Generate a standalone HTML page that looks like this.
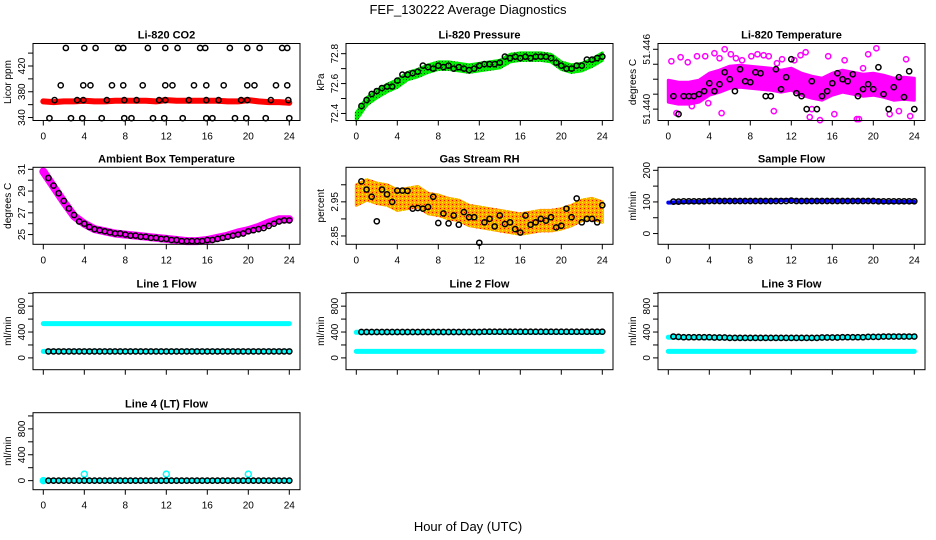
<!DOCTYPE html>
<html><head><meta charset="utf-8">
<style>
html,body{margin:0;padding:0;background:#fff;}
svg{display:block;font-family:"Liberation Sans",sans-serif;}
</style></head>
<body>
<svg id="chart" width="936" height="540" viewBox="0 0 936 540" xmlns="http://www.w3.org/2000/svg">
<defs>
<pattern id="rhpat" width="4" height="4" patternUnits="userSpaceOnUse">
<rect width="4" height="4" fill="#ffa500"/>
<rect x="0" y="0" width="1" height="1" fill="#ff0000"/>
<rect x="2" y="2" width="1" height="1" fill="#ffff00"/>
<rect x="2" y="0" width="1" height="1" fill="#ffd000"/>
</pattern>
<pattern id="grpat" width="3" height="3" patternUnits="userSpaceOnUse">
<rect width="3" height="3" fill="#00ee00"/>
<rect x="1" y="1" width="1" height="1" fill="#006600"/>
</pattern>
</defs>
<text x="468" y="14" font-size="13" text-anchor="middle">FEF_130222  Average Diagnostics</text>
<text x="468" y="531" font-size="13" text-anchor="middle">Hour of Day (UTC)</text>
</svg>
<script>
const halfHours=[0.5,1,1.5,2,2.5,3,3.5,4,4.5,5,5.5,6,6.5,7,7.5,8,8.5,9,9.5,10,10.5,11,11.5,12,12.5,13,13.5,14,14.5,15,15.5,16,16.5,17,17.5,18,18.5,19,19.5,20,20.5,21,21.5,22,22.5,23,23.5,24];
const hours=[0,1,2,3,4,5,6,7,8,9,10,11,12,13,14,15,16,17,18,19,20,21,22,23,24];
const xTicks=[0,4,8,12,16,20,24];
// CO2
const co2Band=[365,364,365,365,366,365,365,366,366,366,366,365,367,366,366,366,366,366,365,365,367,365,364,364,363];
const co2CircH=[2.2,4.0,5.1,7.3,7.8,10.2,11.9,13.1,15.3,15.8,18.2,19.9,21.1,23.3,23.8,1.7,3.9,4.6,6.7,7.8,9.7,11.9,12.6,14.7,15.9,17.6,19.9,20.6,22.7,23.8,1.1,3.3,3.9,6.2,7.9,9.1,11.3,11.9,14.2,15.9,17.1,19.3,19.9,22.2,23.9,0.6,2.7,3.8,5.7,7.9,8.6,10.7,11.8,13.6,15.9,16.5,18.7,19.8,21.7,24.0];
const co2CircV=[448,448,448,448,448,448,448,448,448,448,448,448,448,448,448,390,390,390,390,390,390,390,390,390,390,390,390,390,390,390,367,367,367,367,367,367,367,367,367,367,367,367,367,367,367,339,339,339,339,339,339,339,339,339,339,339,339,339,339,339];
// Pressure
const presBand=[72.38,72.48,72.53,72.57,72.60,72.65,72.67,72.70,72.72,72.72,72.71,72.70,72.71,72.72,72.73,72.77,72.78,72.78,72.78,72.77,72.72,72.70,72.71,72.74,72.78];
const presCirc=[72.45,72.49,72.53,72.55,72.57,72.58,72.58,72.62,72.66,72.66,72.67,72.68,72.72,72.71,72.70,72.72,72.71,72.72,72.70,72.71,72.70,72.69,72.70,72.72,72.73,72.73,72.73,72.74,72.78,72.77,72.78,72.77,72.78,72.77,72.78,72.78,72.78,72.77,72.74,72.72,72.70,72.70,72.72,72.72,72.76,72.76,72.77,72.78];
// Li-820 temperature
const ltBand=[51.4418,51.4416,51.4416,51.4418,51.4425,51.4428,51.4432,51.4433,51.4432,51.4431,51.4430,51.4428,51.4430,51.4425,51.4422,51.4420,51.4425,51.4428,51.4426,51.4424,51.4425,51.4423,51.4420,51.4421,51.4420];
const ltCirc=[51.4413,51.4395,51.4413,51.4413,51.4413,51.4415,51.4418,51.4426,51.4418,51.4425,51.4437,51.4430,51.4418,51.4440,51.4428,51.4427,51.4437,51.4436,51.4413,51.4413,51.4440,51.4420,51.4432,51.4450,51.4416,51.4413,51.4400,51.4428,51.4400,51.4413,51.4418,51.4426,51.4436,51.4430,51.4428,51.4435,51.4413,51.4420,51.4425,51.4420,51.4442,51.4415,51.4400,51.4422,51.4432,51.4412,51.4438,51.4400];
const ltOutH=[0.3,1.2,1.9,2.8,3.6,4.5,5.0,5.5,6.1,6.6,7.2,8.1,8.7,9.3,9.8,10.6,11.1,12.3,12.9,13.4,14.0,14.8,15.6,16.2,17.2,18.4,19.0,19.5,20.3,21.6,22.5,23.2,23.6,0.8,2.3,3.9,5.2,10.3,13.8,18.6];
const ltOutV=[51.4448,51.4452,51.4447,51.4453,51.4453,51.4456,51.4451,51.4460,51.4455,51.4451,51.4449,51.4453,51.4455,51.4454,51.4453,51.4446,51.4450,51.4449,51.4454,51.4457,51.4400,51.4389,51.4453,51.4395,51.4449,51.4390,51.4441,51.4455,51.4461,51.4395,51.4398,51.4450,51.4393,51.4396,51.4403,51.4406,51.4396,51.4398,51.4392,51.4390];
// Ambient
const ambBand=[30.8,29.4,28.0,26.7,26.0,25.5,25.3,25.1,25.0,24.9,24.8,24.7,24.6,24.5,24.4,24.4,24.5,24.7,24.9,25.2,25.4,25.7,26.1,26.4,26.4];
const ambCirc=[30.2,29.5,28.8,28.1,27.4,26.8,26.2,26.0,25.7,25.5,25.4,25.3,25.2,25.1,25.1,25.0,24.9,24.9,24.8,24.8,24.7,24.7,24.6,24.6,24.5,24.5,24.4,24.4,24.4,24.4,24.4,24.5,24.5,24.6,24.7,24.8,24.9,25.0,25.1,25.3,25.4,25.5,25.6,25.8,26.0,26.2,26.3,26.3];
// Gas stream RH
const rhBand=[2.97,2.985,2.975,2.97,2.955,2.96,2.965,2.945,2.94,2.93,2.925,2.91,2.905,2.9,2.895,2.89,2.885,2.89,2.895,2.895,2.9,2.91,2.925,2.93,2.92];
const rhCirc=[3.01,2.986,2.965,2.893,2.986,2.972,2.95,2.983,2.983,2.982,2.93,2.932,2.93,2.935,2.965,2.888,2.916,2.887,2.91,2.883,2.92,2.905,2.905,2.83,2.89,2.9,2.878,2.91,2.885,2.89,2.87,2.86,2.91,2.883,2.89,2.9,2.895,2.905,2.875,2.88,2.93,2.905,2.96,2.89,2.9,2.9,2.89,2.94];
// Sample flow
const sfBand=[98,99,100,100,104,104,104,104,104,104,104,105,105,104,104,104,104,104,104,104,104,100,100,100,100];
const sfCirc=[101,101,102,102,102,102,102,103,103,103,103,103,103,103,103,103,103,103,103,103,103,103,103,104,103,103,103,103,103,103,103,103,103,103,103,103,103,103,103,103,102,102,102,102,102,102,102,102];
// Line flows
const l1High=[530,530,530,530,530,530,530,530,530,530,530,530,530,530,530,530,530,530,530,530,530,530,530,530,530];
const l1Low=[100,100,100,100,100,100,100,100,100,100,100,100,100,100,100,100,100,100,100,100,100,100,100,100,100];
const l1Circ=[100,100,100,100,100,100,100,100,100,100,100,100,100,100,100,100,100,100,100,100,100,100,100,100,100,100,100,100,100,100,100,100,100,100,100,100,100,100,100,100,100,100,100,100,100,100,100,100];
const l2High=[395,395,395,395,395,395,395,395,395,395,395,395,395,395,395,395,395,395,395,395,395,395,395,395,395];
const l2Low=[100,100,100,100,100,100,100,100,100,100,100,100,100,100,100,100,100,100,100,100,100,100,100,100,100];
const l2Circ=[400,400,400,400,400,400,400,400,400,400,400,400,400,400,400,400,400,400,400,400,400,400,400,400,405,405,405,405,405,405,405,405,405,405,405,405,405,405,405,405,405,405,405,405,405,405,405,405];
const l3High=[320,320,315,315,310,310,310,305,305,305,305,305,305,305,305,310,315,315,315,320,325,330,330,330,330];
const l3Low=[100,100,100,100,100,100,100,100,100,100,100,100,100,100,100,100,100,100,100,100,100,100,100,100,100];
const l3Circ=[330,325,320,320,320,320,320,320,315,315,315,310,310,310,310,310,310,310,310,310,310,310,310,310,310,310,310,310,310,315,315,315,315,320,320,320,320,320,325,325,325,330,330,330,330,330,330,330];
const l4Base=[0,0,0,0,0,0,0,0,0,0,0,0,0,0,0,0,0,0,0,0,0,0,0,0,0];
const l4Circ=[0,0,0,0,0,0,0,0,0,0,0,0,0,0,0,0,0,0,0,0,0,0,0,0,0,0,0,0,0,0,0,0,0,0,0,0,0,0,0,0,0,0,0,0,0,0,0,0];
const l4SpikeH=[0,4,12,20];
const l4SpikeV=[0,100,100,100];

const NS="http://www.w3.org/2000/svg";
const svg=document.getElementById('chart');
const colL=[33,346,658], rowT=[43.5,167.3,292.7,412.7], PW=267, PH=77;
function mk(tag,attrs,parent){const e=document.createElementNS(NS,tag);for(const k in attrs)e.setAttribute(k,attrs[k]);(parent||svg).appendChild(e);return e;}

function makePanel(name,col,row,ymin,ymax,title,ylab,yt,yl,showX){
  const g=mk('g',{});
  
  
  const L=colL[col],T=rowT[row],B=T+PH,R=L+PW;
  const xs=h=>L+10.3+h*10.25;
  const ys=v=>B-(v-ymin)/(ymax-ymin)*PH;
  const plot=mk('g',{},g);
  
  
  const box=mk('rect',{x:L,y:T,width:PW,height:PH,fill:'none',stroke:'#000','stroke-width':1},g);
  
  
  const t=mk('text',{x:(L+R)/2,y:T-5,'font-size':11,'font-weight':'bold','text-anchor':'middle'},g);
  t.textContent=title;
  
  
  const yl2=mk('text',{transform:`translate(${L-22},${(T+B)/2}) rotate(-90)`,'font-size':10,'text-anchor':'middle'},g);
  yl2.textContent=ylab;
  
  
  yt.forEach(v=>{const y=ys(v);const tk=mk('line',{x1:L-5,x2:L,y1:y,y2:y,stroke:'#000'},g);
    
    });
  yl.forEach(v=>{const y=ys(v);const tx=mk('text',{transform:`translate(${L-8},${y}) rotate(-90)`,'font-size':10,'text-anchor':'middle'},g);
    tx.textContent=String(v);
    
    });
  xTicks.forEach(h=>{const x=xs(h);const tk=mk('line',{x1:x,x2:x,y1:B,y2:B+5,stroke:'#000'},g);
    
    
    if(showX){const tx=mk('text',{x:x,y:B+19,'font-size':10,'text-anchor':'middle'},g);tx.textContent=String(h);
      
      }});
  return {plot,xs,ys};
}
function line(p,hs,vs,color,w,name){const d=hs.map((h,i)=>(i?'L':'M')+p.xs(h).toFixed(1)+','+p.ys(vs[i]).toFixed(1)).join('');
  const e=mk('path',{d,fill:'none',stroke:color,'stroke-width':w,'stroke-linecap':'round','stroke-linejoin':'round'},p.plot);
  
  }
function band(p,hs,vs,hw,fill,name){const up=hs.map((h,i)=>p.xs(h).toFixed(1)+','+p.ys(vs[i]+hw).toFixed(1));
  const dn=hs.map((h,i)=>p.xs(h).toFixed(1)+','+p.ys(vs[i]-hw).toFixed(1)).reverse();
  const e=mk('path',{d:'M'+up.join('L')+'L'+dn.join('L')+'Z',fill:fill,stroke:fill,'stroke-width':3,'stroke-linejoin':'round'},p.plot);
  
  }
function circles(p,hs,vs,color,name,r){hs.forEach((h,i)=>{const c=mk('circle',{cx:p.xs(h),cy:p.ys(vs[i]),r:r||2.6,fill:'none',stroke:color,'stroke-width':1.5},p.plot);
  
  });}

let p;
p=makePanel('co2',0,0,335.4,454.9,'Li-820 CO2','Licor ppm',[340,360,380,400,420,440],[340,380,420],true);
line(p,hours,co2Band,'#ff0000',6,'co2-band');
circles(p,co2CircH,co2CircV,'#000','co2-point');

p=makePanel('pressure',1,0,72.353,72.868,'Li-820 Pressure','kPa',[72.4,72.5,72.6,72.7,72.8],[72.4,72.6,72.8],true);
band(p,hours,presBand,0.025,'url(#grpat)','pressure-band');
circles(p,halfHours,presCirc,'#000','pressure-point');

p=makePanel('li-temp',2,0,51.43886,51.44658,'Li-820 Temperature','degrees C',[51.440,51.4415,51.443,51.4445,51.446],['51.440','51.446'],true);
band(p,hours,ltBand,0.0011,'#ff00ff','li-temp-band');
circles(p,ltOutH,ltOutV,'#ff00ff','li-temp-raw-point');
circles(p,halfHours,ltCirc,'#000','li-temp-point');

p=makePanel('ambient',0,1,24.104,31.187,'Ambient Box Temperature','degrees C',[25,26,27,28,29,30,31],[25,27,29,31],true);
line(p,hours,ambBand,'#ff00ff',8,'ambient-band');
circles(p,halfHours,ambCirc,'#000','ambient-point');

p=makePanel('rh',1,1,2.8256,3.0512,'Gas Stream RH','percent',[2.85,2.90,2.95,3.00],[2.85,2.95],true);
band(p,hours,rhBand,0.03,'url(#rhpat)','rh-band');
circles(p,halfHours,rhCirc,'#000','rh-point');

p=makePanel('sample-flow',2,1,-34,209.5,'Sample Flow','ml/min',[0,50,100,150,200],[0,100,200],true);
line(p,hours,sfBand,'#0000ff',4,'sample-flow-band');
circles(p,halfHours,sfCirc,'#000','sample-flow-point');

const fT=[0,200,400,600,800,1000], fL=[0,400,800];
p=makePanel('line1',0,2,-182.5,1008,'Line 1 Flow','ml/min',fT,fL,false);
line(p,hours,l1High,'#00ffff',5,'line1-high-band');
line(p,hours,l1Low,'#00ffff',5,'line1-low-band');
circles(p,halfHours,l1Circ,'#000','line1-point');

p=makePanel('line2',1,2,-182.5,1008,'Line 2 Flow','ml/min',fT,fL,false);
line(p,hours,l2High,'#00ffff',5,'line2-high-band');
line(p,hours,l2Low,'#00ffff',5,'line2-low-band');
circles(p,halfHours,l2Circ,'#000','line2-point');

p=makePanel('line3',2,2,-182.5,1008,'Line 3 Flow','ml/min',fT,fL,false);
line(p,hours,l3High,'#00ffff',5,'line3-high-band');
line(p,hours,l3Low,'#00ffff',5,'line3-low-band');
circles(p,halfHours,l3Circ,'#000','line3-point');

p=makePanel('line4',0,3,-140,1050,'Line 4 (LT) Flow','ml/min',fT,fL,true);
line(p,hours,l4Base,'#00ffff',5,'line4-band');
circles(p,l4SpikeH,l4SpikeV,'#00ffff','line4-cyan-point',3);
circles(p,halfHours,l4Circ,'#000','line4-point');
</script>
</body></html>
